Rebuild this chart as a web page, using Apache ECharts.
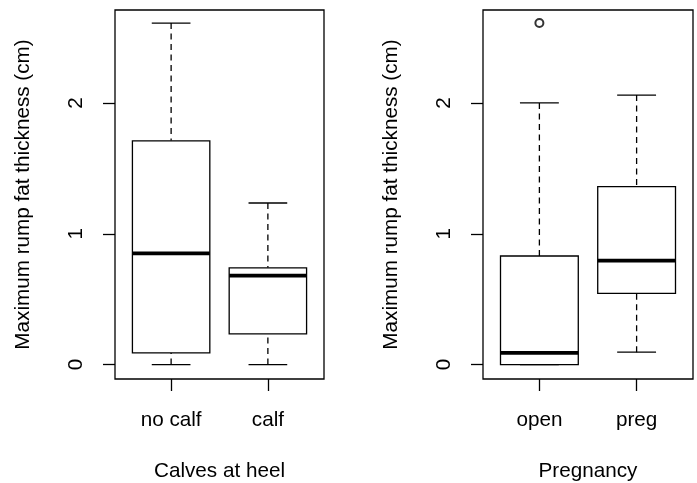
<!DOCTYPE html>
<html>
<head>
<meta charset="utf-8">
<script src="https://cdn.jsdelivr.net/npm/echarts@6/dist/echarts.min.js"></script>
<style>
  html, body { margin: 0; padding: 0; background: #fff; }
  #chart { width: 697px; height: 483px; }
</style>
</head>
<body>
<div id="chart"></div>
<script>
// ---- data ----
const categoriesCalves = ['no calf', 'calf'];
// [min, Q1, median, Q3, max]
const statsCalves = [
  [0.0, 0.09, 0.85, 1.71, 2.61],
  [0.0, 0.235, 0.68, 0.74, 1.235]
];
const outliersCalves = [];

const categoriesPreg = ['open', 'preg'];
const statsPreg = [
  [0.0, 0.0, 0.09, 0.83, 2.0],
  [0.095, 0.545, 0.795, 1.36, 2.06]
];
// [category position (1-based), value]
const outliersPreg = [[1, 2.61]];

const yTicks = [0, 1, 2];
const yTitle = 'Maximum rump fat thickness (cm)';
const xTitleCalves = 'Calves at heel';
const xTitlePreg = 'Pregnancy';

// ---- chart ----
const FONT = "'Liberation Sans', Arial, sans-serif";
const FS = 20.7;
const LW = 1.3;

function boxItem(params, api) {
  const x = api.value(0);
  const mn = api.value(1), q1 = api.value(2), md = api.value(3), q3 = api.value(4), mx = api.value(5);
  const c = (dx, v) => api.coord([x + dx, v]);
  const line = (a, b, style) => ({
    type: 'line',
    shape: { x1: a[0], y1: a[1], x2: b[0], y2: b[1] },
    style: Object.assign({ stroke: '#000', lineWidth: LW }, style || {})
  });
  const dash = { lineDash: [6, 4.5] };
  const boxTL = c(-0.4, q3), boxBR = c(0.4, q1);
  return {
    type: 'group',
    children: [
      line(c(0, mn), c(0, q1), dash),
      line(c(0, mx), c(0, q3), dash),
      line(c(-0.2, mn), c(0.2, mn)),
      line(c(-0.2, mx), c(0.2, mx)),
      {
        type: 'rect',
        shape: { x: boxTL[0], y: boxTL[1], width: boxBR[0] - boxTL[0], height: boxBR[1] - boxTL[1] },
        style: { fill: '#fff', stroke: '#000', lineWidth: LW }
      },
      line(c(-0.4, md), c(0.4, md), { lineWidth: 3.6 })
    ]
  };
}

function xAxisFor(idx, cats, title) {
  return {
    gridIndex: idx, type: 'value', min: 0.42, max: 2.58,
    name: title, nameLocation: 'middle', nameGap: 82,
    nameTextStyle: { fontFamily: FONT, fontSize: FS, color: '#000' },
    axisLine: { show: false, onZero: false },
    splitLine: { show: false },
    axisTick: { show: true, length: 12, customValues: [1, 2], lineStyle: { color: '#000', width: LW } },
    axisLabel: {
      customValues: [1, 2], margin: 31,
      fontFamily: FONT, fontSize: FS, color: '#000',
      formatter: v => cats[Math.round(v) - 1]
    }
  };
}

function yAxisFor(idx) {
  return {
    gridIndex: idx, type: 'value', min: -0.11, max: 2.71,
    name: yTitle, nameLocation: 'middle', nameGap: 81, nameRotate: 90,
    nameTextStyle: { fontFamily: FONT, fontSize: FS, color: '#000' },
    axisLine: { show: false, onZero: false },
    splitLine: { show: false },
    axisTick: { show: true, length: 12, customValues: yTicks, lineStyle: { color: '#000', width: LW } },
    axisLabel: {
      customValues: yTicks, rotate: 90, margin: 28,
      fontFamily: FONT, fontSize: FS, color: '#000'
    }
  };
}

const toData = stats => stats.map((s, i) => [i + 1].concat(s));

const chart = echarts.init(document.getElementById('chart'), null, { renderer: 'canvas' });
chart.setOption({
  animation: false,
  backgroundColor: '#fff',
  grid: [
    { left: 115, top: 10, width: 209, height: 369, show: true, borderColor: '#000', borderWidth: LW, backgroundColor: 'transparent', containLabel: false, outerBoundsMode: 'none' },
    { left: 483, top: 10, width: 210, height: 369, show: true, borderColor: '#000', borderWidth: LW, backgroundColor: 'transparent', containLabel: false, outerBoundsMode: 'none' }
  ],
  xAxis: [xAxisFor(0, categoriesCalves, xTitleCalves), xAxisFor(1, categoriesPreg, xTitlePreg)],
  yAxis: [yAxisFor(0), yAxisFor(1)],
  series: [
    {
      type: 'custom', xAxisIndex: 0, yAxisIndex: 0,
      renderItem: boxItem, data: toData(statsCalves),
      encode: { x: 0, y: [1, 2, 3, 4, 5] }
    },
    {
      type: 'scatter', xAxisIndex: 0, yAxisIndex: 0,
      data: outliersCalves, symbol: 'emptyCircle', symbolSize: 8,
      itemStyle: { color: '#000', borderColor: '#000', borderWidth: 1.1 }
    },
    {
      type: 'custom', xAxisIndex: 1, yAxisIndex: 1,
      renderItem: boxItem, data: toData(statsPreg),
      encode: { x: 0, y: [1, 2, 3, 4, 5] }
    },
    {
      type: 'scatter', xAxisIndex: 1, yAxisIndex: 1,
      data: outliersPreg, symbol: 'emptyCircle', symbolSize: 8,
      itemStyle: { color: '#000', borderColor: '#000', borderWidth: 1.1 }
    }
  ]
});
</script>
</body>
</html>
